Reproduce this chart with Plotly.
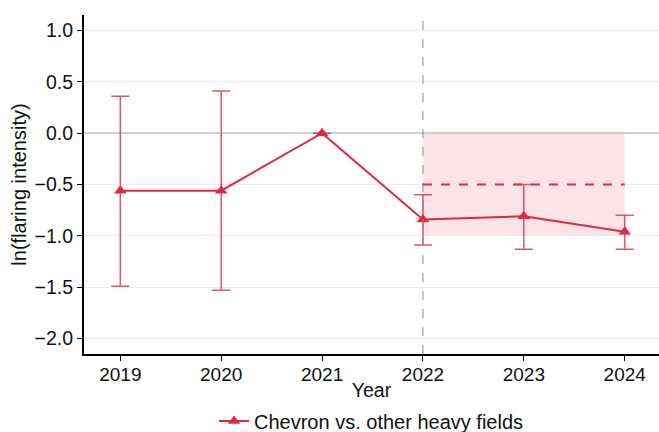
import plotly.graph_objects as go

years = [2019, 2020, 2021, 2022, 2023, 2024]
estimates = [-0.56, -0.56, 0.0, -0.84, -0.81, -0.96]
ci_upper = [0.36, 0.41, 0.0, -0.60, -0.50, -0.80]
ci_lower = [-1.49, -1.53, 0.0, -1.09, -1.13, -1.13]
target_band = [0.0, -1.0]
target_line = -0.5
treat_year = 2022
series_name = "Chevron vs. other heavy fields"
y_ticks = [-2.0, -1.5, -1.0, -0.5, 0.0, 0.5, 1.0]

red = "#dc2a47"
err_plus = [u - e for u, e in zip(ci_upper, estimates)]
err_minus = [e - l for e, l in zip(estimates, ci_lower)]
has_err = [abs(a) > 1e-9 or abs(b) > 1e-9 for a, b in zip(err_plus, err_minus)]

fig = go.Figure()
fig.add_shape(type="rect", xref="x", yref="y", x0=treat_year, x1=years[-1],
              y0=target_band[1], y1=target_band[0], fillcolor="rgba(232,80,110,0.16)",
              line=dict(width=0), layer="below")
fig.add_shape(type="line", xref="x", yref="paper", x0=treat_year, x1=treat_year, y0=0, y1=1,
              line=dict(color="#888888", width=1, dash="dash"))
fig.add_shape(type="line", xref="x", yref="y", x0=treat_year, x1=years[-1],
              y0=target_line, y1=target_line, line=dict(color=red, width=2, dash="dash"))

fig.add_trace(go.Scatter(
    x=years, y=estimates, mode="lines+markers", name=series_name,
    line=dict(color=red, width=2),
    marker=dict(symbol="triangle-up", size=11, color=red),
    error_y=dict(type="data", symmetric=False,
                 array=[p if h else None for p, h in zip(err_plus, has_err)],
                 arrayminus=[m if h else None for m, h in zip(err_minus, has_err)],
                 color="rgba(220,42,71,0.8)", thickness=1.5, width=9),
))

fig.update_layout(
    width=659, height=432,
    margin=dict(l=84, r=0, t=15, b=78, autoexpand=False),
    paper_bgcolor="white", plot_bgcolor="white",
    font=dict(family="Liberation Sans, Arial, sans-serif", size=19, color="#111111"),
    showlegend=True,
    legend=dict(orientation="h", x=0.5, xanchor="center", y=-0.14, yanchor="top",
                font=dict(size=20), itemwidth=30),
    xaxis=dict(range=[2018.64, 2024.34], tickvals=years, ticktext=[str(y) for y in years],
               showgrid=False, zeroline=False, showline=True, linecolor="black", linewidth=2,
               ticks="outside", ticklen=5, tickcolor="black", automargin=False,
               tickfont=dict(size=19), ticklabelstandoff=-3,
               title=dict(text="Year", standoff=0, font=dict(size=19.5))),
    yaxis=dict(range=[-2.15, 1.15], tickvals=y_ticks, ticktext=[f"{v:.1f}".replace("-", "\u2212") for v in y_ticks],
               showgrid=True, gridcolor="#ededed", gridwidth=1,
               zeroline=True, zerolinecolor="#cfcfcf", zerolinewidth=1.5,
               showline=True, linecolor="black", linewidth=2,
               ticks="outside", ticklen=5, tickcolor="black", automargin=False,
               tickfont=dict(size=19.5),
               title=dict(text="ln(flaring intensity)", standoff=3, font=dict(size=20))),
)

fig.write_html("out.html", config={"displayModeBar": False},
               post_script="document.body.style.margin='0';document.body.style.padding='0';")
